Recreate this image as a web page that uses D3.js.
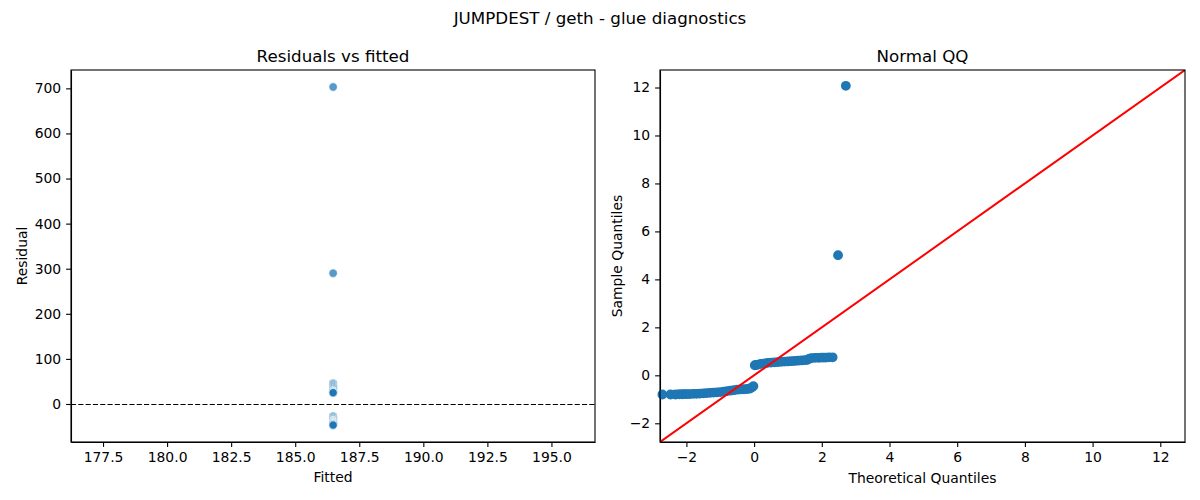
<!DOCTYPE html>
<html>
<head>
<meta charset="utf-8">
<script src="https://cdn.jsdelivr.net/npm/d3@7"></script>
<style>
  body { margin: 0; background: #fff; }
  svg text { font-family: "DejaVu Sans", sans-serif; fill: #000; }
  .axis path, .axis line { stroke: #000; stroke-width: 1.1; }
  .axis text { font-size: 13.9px; }
</style>
</head>
<body>
<div id="chart"></div>
<script>
// residuals vs fitted: the model is a constant, so every point sits on one fitted value
var fittedValue = 186.48;
var residuals = [703, 290,
  46, 44, 42, 40, 38, 36, 34, 32, 30, 29, 28, 27, 27, 26, 26, 26, 25, 25, 25,
  -27, -29, -31, -33, -35, -36, -37, -38, -38, -39, -39, -40, -40, -41, -41, -42, -42,
  -43, -43, -44, -44, -45, -46, -47];
var fittedTicks = [177.5, 180.0, 182.5, 185.0, 187.5, 190.0, 192.5, 195.0];
var residualTicks = [0, 100, 200, 300, 400, 500, 600, 700];

// normal QQ: theoretical vs sample quantiles, read along the band
var qqTheoretical = [-2.71, -2.47, -2.32, -2.21, -2.12, -2.05, -1.98, -1.9, -1.8, -1.7, -1.6, -1.5,
  -1.4, -1.3, -1.2, -1.1, -1.0, -0.9, -0.8, -0.7, -0.6, -0.5, -0.4, -0.3, -0.2, -0.12, -0.06, -0.02,
  0.02, 0.06, 0.12, 0.2, 0.3, 0.4, 0.5, 0.6, 0.7, 0.8, 0.9, 1.0, 1.1, 1.2, 1.3, 1.4, 1.5,
  1.58, 1.64, 1.7, 1.8, 1.9, 1.98, 2.05, 2.12, 2.21, 2.32, 2.48, 2.71];
var qqSample = [-0.80, -0.80, -0.80, -0.79, -0.79, -0.78, -0.78, -0.78, -0.77, -0.77, -0.76, -0.75,
  -0.74, -0.73, -0.72, -0.71, -0.70, -0.68, -0.66, -0.64, -0.62, -0.60, -0.59, -0.58, -0.57, -0.55, -0.50, -0.45,
  0.42, 0.43, 0.45, 0.48, 0.50, 0.52, 0.53, 0.54, 0.55, 0.56, 0.57, 0.58, 0.59, 0.60, 0.61, 0.62, 0.63,
  0.65, 0.70, 0.72, 0.73, 0.73, 0.74, 0.74, 0.74, 0.75, 0.75, 5.01, 12.07];
var qqTicks = [-2, 0, 2, 4, 6, 8, 10, 12];

var width = 1200, height = 500;
var fmtMinus = function (v) { return String(v).replace("-", "\u2212"); };

var svg = d3.select("#chart").append("svg")
    .attr("width", width)
    .attr("height", height);

svg.append("text")
    .attr("x", 600)
    .attr("y", 24)
    .attr("text-anchor", "middle")
    .attr("font-size", "16.7px")
    .text("JUMPDEST / geth - glue diagnostics");

// ---- left panel: residuals vs fitted
var left = {x0: 71, x1: 595, y0: 70, y1: 442};

var xFit = d3.scaleLinear().domain([176.25, 196.7]).range([left.x0, left.x1]);
var yRes = d3.scaleLinear().domain([-84.3, 740.7]).range([left.y1, left.y0]);

svg.append("g")
    .attr("class", "axis")
    .attr("transform", "translate(0," + left.y1 + ")")
    .call(d3.axisBottom(xFit).tickValues(fittedTicks).tickFormat(d3.format(".1f"))
      .tickSize(4.9).tickPadding(4.9).tickSizeOuter(0));

svg.append("g")
    .attr("class", "axis")
    .attr("transform", "translate(" + left.x0 + ",0)")
    .call(d3.axisLeft(yRes).tickValues(residualTicks).tickFormat(fmtMinus)
      .tickSize(4.9).tickPadding(4.9).tickSizeOuter(0));

// zero line, snapped to a pixel row so the dashes stay black
var zeroY = Math.round(yRes(0)) + 0.5;
svg.append("line")
    .attr("x1", left.x0).attr("x2", left.x1)
    .attr("y1", zeroY).attr("y2", zeroY)
    .attr("stroke", "#000")
    .attr("stroke-width", 1.1)
    .attr("stroke-dasharray", "5.1,2.2");

svg.append("g").selectAll("circle")
    .data(residuals)
    .enter().append("circle")
    .attr("cx", function () { return xFit(fittedValue); })
    .attr("cy", function (d) { return yRes(d); })
    .attr("r", 4.2)
    .attr("fill", "#1f77b4")
    .attr("fill-opacity", 0.75)
    .attr("stroke", "#fff")
    .attr("stroke-width", 0.6);

svg.append("rect")
    .attr("x", left.x0).attr("y", left.y0)
    .attr("width", left.x1 - left.x0).attr("height", left.y1 - left.y0)
    .attr("fill", "none").attr("stroke", "#000").attr("stroke-width", 1.1);

svg.append("text")
    .attr("x", (left.x0 + left.x1) / 2).attr("y", 62)
    .attr("text-anchor", "middle").attr("font-size", "16.7px")
    .text("Residuals vs fitted");

svg.append("text")
    .attr("x", (left.x0 + left.x1) / 2).attr("y", 482)
    .attr("text-anchor", "middle").attr("font-size", "13.9px")
    .text("Fitted");

svg.append("text")
    .attr("transform", "translate(27," + (left.y0 + left.y1) / 2 + ") rotate(-90)")
    .attr("text-anchor", "middle").attr("font-size", "13.9px")
    .text("Residual");

// ---- right panel: normal QQ
var right = {x0: 660, x1: 1185, y0: 70, y1: 442};
var qqDomain = [-2.78, 12.73];

var xQ = d3.scaleLinear().domain(qqDomain).range([right.x0, right.x1]);
var yQ = d3.scaleLinear().domain(qqDomain).range([right.y1, right.y0]);

svg.append("g")
    .attr("class", "axis")
    .attr("transform", "translate(0," + right.y1 + ")")
    .call(d3.axisBottom(xQ).tickValues(qqTicks).tickFormat(fmtMinus)
      .tickSize(4.9).tickPadding(4.9).tickSizeOuter(0));

svg.append("g")
    .attr("class", "axis")
    .attr("transform", "translate(" + right.x0 + ",0)")
    .call(d3.axisLeft(yQ).tickValues(qqTicks).tickFormat(fmtMinus)
      .tickSize(4.9).tickPadding(4.9).tickSizeOuter(0));

var qqPoints = qqTheoretical.map(function (t, i) { return {t: t, s: qqSample[i]}; });

svg.append("g").selectAll("circle")
    .data(qqPoints)
    .enter().append("circle")
    .attr("cx", function (d) { return xQ(d.t); })
    .attr("cy", function (d) { return yQ(d.s); })
    .attr("r", 4.2)
    .attr("fill", "#1f77b4")
    .attr("stroke", "#1f77b4")
    .attr("stroke-width", 1.4);

// 45 degree reference line
var clipId = "qqclip";
svg.append("clipPath").attr("id", clipId)
  .append("rect")
    .attr("x", right.x0).attr("y", right.y0)
    .attr("width", right.x1 - right.x0).attr("height", right.y1 - right.y0);

svg.append("line")
    .attr("clip-path", "url(#" + clipId + ")")
    .attr("x1", xQ(qqDomain[0])).attr("y1", yQ(qqDomain[0]))
    .attr("x2", xQ(qqDomain[1])).attr("y2", yQ(qqDomain[1]))
    .attr("stroke", "#ff0000")
    .attr("stroke-width", 2);

svg.append("rect")
    .attr("x", right.x0).attr("y", right.y0)
    .attr("width", right.x1 - right.x0).attr("height", right.y1 - right.y0)
    .attr("fill", "none").attr("stroke", "#000").attr("stroke-width", 1.1);

svg.append("text")
    .attr("x", (right.x0 + right.x1) / 2).attr("y", 62)
    .attr("text-anchor", "middle").attr("font-size", "16.7px")
    .text("Normal QQ");

svg.append("text")
    .attr("x", (right.x0 + right.x1) / 2).attr("y", 483)
    .attr("text-anchor", "middle").attr("font-size", "13.9px")
    .text("Theoretical Quantiles");

svg.append("text")
    .attr("transform", "translate(622," + (right.y0 + right.y1) / 2 + ") rotate(-90)")
    .attr("text-anchor", "middle").attr("font-size", "13.9px")
    .text("Sample Quantiles");
</script>
</body>
</html>
